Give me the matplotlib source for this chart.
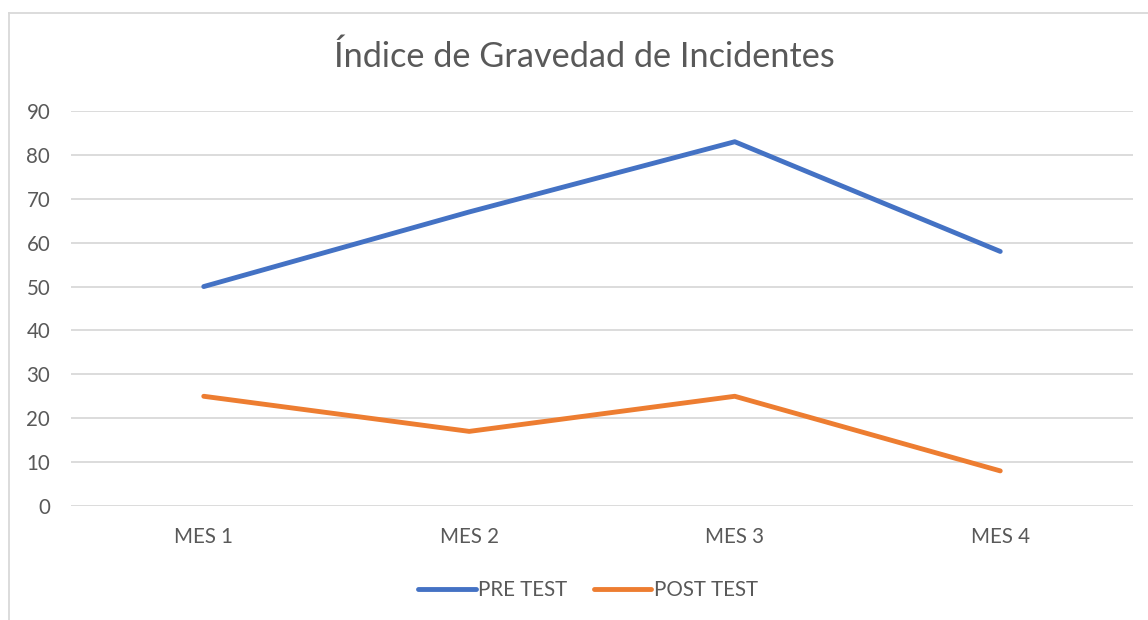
import matplotlib
matplotlib.use("Agg")
import matplotlib.pyplot as plt
from matplotlib.lines import Line2D

# data
months = ["MES 1", "MES 2", "MES 3", "MES 4"]
pre_test = [50, 67, 83, 58]
post_test = [25, 17, 25, 8]

plt.rcParams["font.family"] = ["Lato", "DejaVu Sans"]
text_color = "#595959"

fig = plt.figure(figsize=(11.48, 6.2), dpi=100)
ax = fig.add_axes([71 / 1148, 1 - 506 / 620, 1062 / 1148, 395 / 620])

x = range(len(months))
ax.plot(x, pre_test, color="#4472C4", lw=3.5, solid_capstyle="round",
        solid_joinstyle="round", label="PRE TEST", zorder=3)
ax.plot(x, post_test, color="#ED7D31", lw=3.5, solid_capstyle="round",
        solid_joinstyle="round", label="POST TEST", zorder=3)

ax.set_xlim(-0.5, len(months) - 0.5)
ax.set_ylim(0, 90)
ax.set_yticks(range(0, 91, 10))
ax.set_xticks(list(x))
ax.set_xticklabels(months)
ax.grid(axis="y", color="#D9D9D9", lw=1.3)
ax.set_axisbelow(True)
for s in ax.spines.values():
    s.set_visible(False)
ax.tick_params(length=0, labelsize=14.8, labelcolor=text_color)
ax.tick_params(axis="y", pad=15)
ax.tick_params(axis="x", pad=15)

fig.text(584 / 1148, 1 - 57 / 620, "Índice de Gravedad de Incidentes",
         ha="center", va="center", fontsize=24.7, color=text_color)

fig.legend(loc="center", bbox_to_anchor=(588 / 1148, 1 - 590 / 620), ncol=2,
           frameon=False, fontsize=14.8, labelcolor=text_color,
           handlelength=2.8, handletextpad=0.12, columnspacing=1.3)

# chart border (cropped at right and bottom in the reference)
fig.add_artist(Line2D([8.5 / 1148, 8.5 / 1148], [0, 1 - 12.5 / 620],
                      transform=fig.transFigure, color="#D9D9D9", lw=1.3))
fig.add_artist(Line2D([8.5 / 1148, 1], [1 - 12.5 / 620, 1 - 12.5 / 620],
                      transform=fig.transFigure, color="#D9D9D9", lw=1.3))

fig.savefig("out.png", dpi=100, facecolor="white")
